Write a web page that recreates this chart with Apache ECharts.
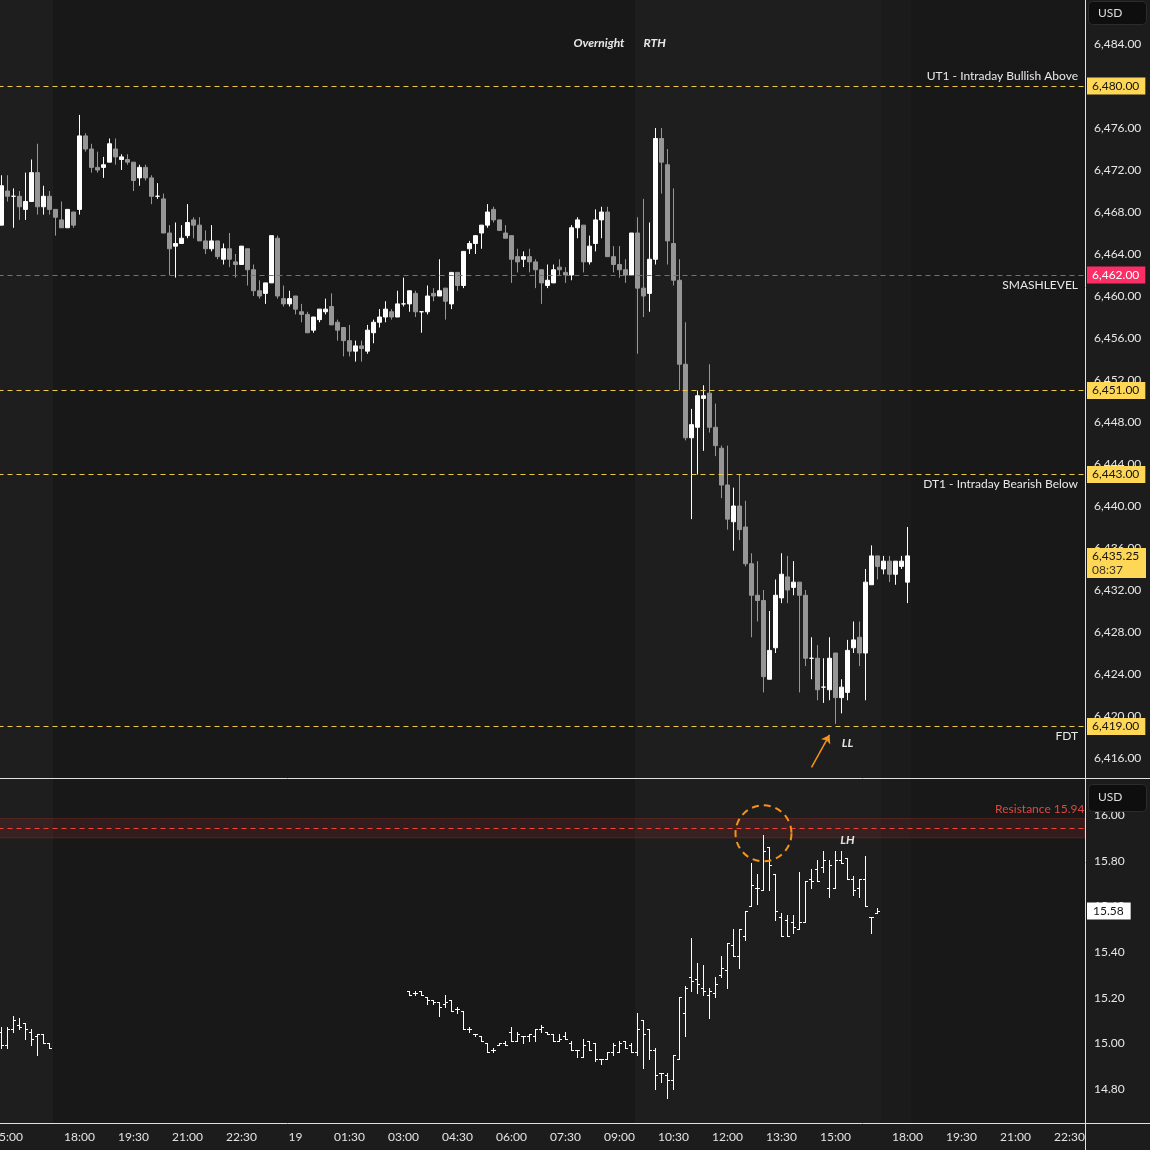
<!DOCTYPE html>
<html><head><meta charset="utf-8">
<script src="https://cdn.jsdelivr.net/npm/echarts@6/dist/echarts.min.js"></script>
<style>html,body{margin:0;padding:0;background:#181818}#c{width:1150px;height:1150px}</style>
</head><body><div id="c"></div>
<script>
// ---------------- DATA ----------------
// ES 10-minute candles [open, high, low, close], first bar at esStart
const esStart = '08-18 14:50';
const esBars = [
[6466.75,6471.5,6466.75,6470.5],[6470.0,6471.5,6469.0,6469.5],[6469.5,6470.25,6466.5,6469.5],[6469.5,6470.0,6467.25,6468.5],
[6468.25,6471.75,6467.25,6469.0],[6469.0,6473.0,6469.0,6471.75],[6471.75,6474.5,6467.75,6468.5],[6468.5,6470.5,6467.75,6469.5],
[6469.5,6470.0,6467.75,6468.25],[6468.25,6468.25,6465.75,6467.5],[6467.25,6469.0,6466.5,6466.5],[6466.5,6468.25,6466.5,6468.25],
[6468.0,6468.0,6466.5,6466.75],
// 18:00
[6468.25,6477.25,6467.75,6475.25],[6475.25,6475.5,6473.75,6474.0],[6474.0,6474.5,6471.75,6472.25],[6472.25,6473.75,6471.75,6472.0],
[6472.25,6473.25,6471.25,6472.5],[6472.75,6475.0,6472.75,6474.5],[6474.0,6475.0,6472.5,6473.25],[6473.0,6473.5,6472.0,6473.25],
[6473.0,6473.5,6472.5,6472.75],[6472.75,6472.75,6470.0,6471.0],[6471.25,6472.5,6470.5,6472.25],[6472.25,6472.5,6471.0,6471.25],
[6471.25,6471.5,6468.75,6469.5],[6469.5,6470.75,6469.25,6469.5],[6469.25,6469.75,6466.0,6466.0],[6466.0,6466.75,6462.0,6464.5],
[6464.75,6467.0,6461.75,6465.0],[6465.0,6466.75,6465.0,6465.5],[6465.75,6468.75,6465.5,6467.0],[6467.25,6467.5,6465.5,6466.75],
[6466.75,6467.5,6465.25,6465.25],[6465.25,6466.25,6464.0,6464.5],[6464.5,6466.75,6464.25,6465.25],[6465.25,6465.25,6463.5,6463.75],
[6463.5,6465.0,6463.0,6464.5],[6464.5,6466.0,6462.75,6463.5],[6463.25,6464.0,6461.75,6463.0],[6463.0,6464.75,6463.0,6464.75],
[6464.5,6464.5,6461.0,6462.5],[6462.5,6463.0,6460.0,6460.5],[6460.5,6461.5,6459.75,6460.0],[6460.25,6461.25,6459.25,6461.25],
[6461.25,6465.75,6461.25,6465.75],[6465.5,6465.75,6459.75,6460.0],[6459.75,6461.0,6459.0,6459.25],[6459.25,6460.5,6459.0,6459.75],
[6460.0,6460.0,6458.25,6458.75],[6458.5,6459.25,6457.5,6458.25],[6458.25,6458.5,6456.5,6456.5],[6456.75,6458.0,6456.5,6458.0],
[6457.75,6458.75,6457.5,6458.75],[6458.5,6459.75,6458.25,6458.75],[6459.0,6460.25,6457.25,6457.25],[6457.5,6457.75,6455.75,6456.75],
[6457.0,6457.0,6454.25,6455.75],[6455.75,6457.25,6454.25,6454.75],[6454.75,6455.75,6453.75,6455.25],[6455.25,6455.75,6453.75,6455.0],
[6454.75,6457.25,6454.5,6456.75],[6456.5,6457.75,6455.5,6457.5],[6457.5,6458.75,6457.0,6458.0],[6458.0,6459.5,6457.5,6458.75],
[6458.5,6458.75,6457.75,6458.0],[6458.0,6460.5,6458.0,6459.25],[6459.25,6461.75,6459.0,6459.25],[6459.25,6460.5,6458.5,6460.5],
[6460.25,6460.5,6458.0,6458.5],[6458.5,6458.5,6456.5,6458.5],[6458.5,6461.0,6458.25,6460.0],[6460.25,6460.75,6459.5,6460.0],
[6460.0,6463.5,6460.0,6460.5],[6460.75,6460.75,6457.75,6459.5],[6459.25,6462.25,6458.75,6462.25],[6462.25,6462.25,6460.5,6461.0],
[6461.0,6464.25,6460.75,6464.25],[6464.5,6465.25,6464.0,6465.0],[6465.0,6465.75,6464.0,6465.75],[6466.0,6466.75,6464.5,6466.75],
[6466.75,6468.75,6466.5,6468.0],[6468.25,6468.5,6467.0,6467.25],[6467.25,6467.25,6466.25,6466.25],[6466.0,6466.75,6465.5,6465.5],
[6465.75,6465.75,6461.25,6463.5],[6463.75,6464.5,6462.25,6463.25],[6463.5,6464.25,6462.75,6463.75],[6463.75,6464.5,6462.25,6463.25],
[6463.25,6463.5,6460.75,6462.5],[6462.5,6462.5,6459.25,6461.25],[6461.0,6463.0,6460.75,6461.5],[6461.25,6463.0,6461.25,6462.5],
[6462.75,6463.5,6462.0,6462.5],[6462.25,6462.75,6461.25,6462.0],[6462.0,6466.75,6461.5,6466.5],[6466.5,6467.5,6465.5,6467.25],
[6466.75,6466.75,6462.25,6463.25],[6463.25,6465.75,6463.0,6464.75],[6465.0,6468.25,6464.25,6467.25],[6467.25,6468.5,6465.5,6468.0],
[6468.0,6468.5,6463.75,6463.75],[6463.75,6464.75,6462.25,6463.0],[6463.0,6464.75,6461.75,6462.5],[6462.5,6463.5,6461.25,6462.0],
[6462.0,6466.0,6462.0,6466.0],
// 09:30 RTH
[6466.0,6467.5,6454.5,6460.75],[6460.75,6469.25,6458.0,6460.0],[6460.25,6467.0,6458.5,6463.5],[6463.5,6476.0,6463.0,6475.0],
[6475.0,6476.0,6469.75,6472.75],[6472.5,6474.0,6463.0,6465.25],[6465.0,6470.25,6461.0,6461.5],[6461.5,6463.5,6451.0,6453.5],
[6453.5,6457.5,6446.25,6446.5],[6446.5,6449.25,6438.75,6447.75],[6447.5,6451.0,6443.0,6450.5],[6450.25,6451.5,6445.25,6450.5],
[6450.75,6453.5,6447.0,6447.5],[6447.5,6449.75,6444.75,6445.75],[6445.5,6445.75,6440.75,6442.0],[6442.0,6445.75,6437.75,6438.75],
[6438.5,6441.75,6435.75,6440.0],[6440.0,6443.0,6436.75,6437.75],[6438.0,6440.5,6434.25,6434.5],[6434.5,6435.5,6427.5,6431.5],
[6431.5,6434.75,6429.0,6431.0],[6431.0,6432.0,6422.25,6423.75],[6423.5,6430.0,6423.5,6426.25],[6426.5,6433.0,6426.0,6431.5],
[6431.25,6435.5,6430.75,6433.5],[6433.25,6435.25,6430.75,6432.0],[6432.25,6434.75,6431.5,6432.75],[6432.75,6432.75,6422.25,6431.5],
[6431.5,6432.0,6424.75,6425.5],[6425.5,6427.5,6423.5,6425.5],[6425.5,6426.75,6421.5,6422.5],[6422.75,6425.5,6421.25,6422.75],
[6422.5,6427.5,6421.5,6425.5],[6426.0,6426.0,6419.25,6421.75],[6421.75,6423.5,6420.25,6422.75],[6422.25,6427.25,6421.5,6426.25],
[6426.5,6429.0,6426.0,6427.25],[6427.5,6429.0,6424.75,6426.0],[6426.0,6434.0,6421.5,6432.75],[6432.5,6436.25,6432.5,6435.25],
[6435.25,6435.25,6433.0,6434.25],[6434.0,6435.25,6433.5,6434.75],[6434.75,6435.25,6432.75,6433.5],[6433.5,6434.75,6432.5,6434.75],
[6434.25,6435.25,6434.0,6434.75],
// 18:00 new session
[6432.75,6438.0,6430.75,6435.25]
];
const barTimer = '08:37';

// VIX 10-minute bars [open, high, low, close]
const vixStartA = '08-18 14:50';
const vixA = [
[15.05,15.07,14.98,14.99],[14.99,15.07,14.98,15.06],[15.06,15.12,15.05,15.10],[15.08,15.11,15.06,15.07],
[15.09,15.09,15.02,15.06],[15.05,15.06,14.99,15.02],[15.03,15.04,14.95,15.04],[15.04,15.04,15.00,15.00],[15.00,15.00,14.98,14.98]
];
const vixStartB = '08-19 03:10';
const vixB = [
[15.23,15.23,15.21,15.21],[15.22,15.23,15.21,15.22],[15.23,15.23,15.21,15.21],[15.20,15.20,15.17,15.19],
[15.19,15.19,15.17,15.18],[15.18,15.18,15.12,15.16],[15.17,15.21,15.16,15.18],[15.19,15.19,15.14,15.14],
[15.15,15.16,15.13,15.15],[15.14,15.14,15.06,15.06],[15.06,15.07,15.05,15.06],[15.04,15.04,15.03,15.04],
[15.03,15.03,15.01,15.01],[15.00,15.00,14.96,14.96],[14.97,14.98,14.96,14.97],[14.99,15.00,14.99,15.00],
[15.00,15.01,14.99,14.99],[15.05,15.07,15.01,15.01],[15.01,15.05,15.01,15.04],[15.03,15.03,15.00,15.03],
[15.03,15.04,15.01,15.04],[15.03,15.06,15.01,15.06],[15.06,15.08,15.05,15.07],[15.05,15.05,15.04,15.04],
[15.04,15.04,15.01,15.01],[15.01,15.04,15.01,15.02],[15.03,15.05,15.02,15.02],[15.00,15.01,14.97,14.97],
[14.97,14.97,14.94,14.97],[14.94,15.02,14.94,14.99],[15.01,15.01,14.97,14.97],[15.00,15.00,14.92,14.93],
[14.93,14.93,14.91,14.93],[14.93,14.96,14.93,14.96],[14.96,15.00,14.95,14.99],[14.96,15.01,14.96,15.00],
[15.01,15.01,14.98,14.98],[14.99,15.00,14.96,14.96],[14.96,15.13,14.95,15.06],[15.10,15.10,14.89,15.04],
[15.06,15.06,14.93,14.97],[14.97,14.98,14.80,14.86],[14.87,14.87,14.83,14.87],[14.86,14.87,14.76,14.84],
[14.84,14.95,14.80,14.95],[14.93,15.20,14.93,15.20],[15.13,15.25,15.03,15.24],[15.29,15.46,15.23,15.27],
[15.28,15.35,15.22,15.26],[15.24,15.34,15.21,15.23],[15.21,15.24,15.11,15.23],[15.22,15.29,15.20,15.26],
[15.30,15.38,15.29,15.33],[15.32,15.44,15.24,15.44],[15.43,15.50,15.38,15.38],[15.38,15.50,15.33,15.50],
[15.47,15.58,15.45,15.58],[15.60,15.79,15.60,15.69],[15.68,15.74,15.61,15.68],[15.67,15.91,15.67,15.84],
[15.86,15.86,15.67,15.78],[15.74,15.74,15.54,15.58],[15.55,15.57,15.47,15.47],[15.54,15.56,15.47,15.47],
[15.53,15.56,15.48,15.51],[15.50,15.75,15.50,15.53],[15.53,15.71,15.53,15.71],[15.72,15.76,15.68,15.71],
[15.76,15.80,15.71,15.71],[15.77,15.84,15.75,15.80],[15.68,15.80,15.64,15.78],[15.68,15.84,15.68,15.80],
[15.80,15.84,15.79,15.79],[15.81,15.81,15.72,15.72],[15.72,15.73,15.65,15.67],[15.68,15.72,15.64,15.72],
[15.72,15.82,15.60,15.60],[15.55,15.55,15.48,15.55],[15.57,15.59,15.57,15.58]
];

// horizontal levels on the ES pane
const levelValues = [6480, 6462, 6451, 6443, 6419];
const levelNames  = ['UT1 - Intraday Bullish Above', 'SMASHLEVEL', '', 'DT1 - Intraday Bearish Below', 'FDT'];
const levelSides  = ['top', 'bottom', '', 'bottom', 'bottom'];
const levelKinds  = ['gold', 'pink', 'gold', 'gold', 'gold'];

const resistanceValue = 15.94;
const resistanceBand = [15.90, 15.985];

// sessions (shading)
const sessionRanges = [['08-18 14:50','08-18 16:10','rth'],['08-19 09:30','08-19 16:10','rth'],['08-19 16:20','08-19 18:00','post']];

// x tick labels
const xTickLabels = {
 '08-18 15:00':'15:00','08-18 18:00':'18:00','08-18 19:30':'19:30','08-18 21:00':'21:00','08-18 22:30':'22:30',
 '08-19 00:00':'19','08-19 01:30':'01:30','08-19 03:00':'03:00','08-19 04:30':'04:30','08-19 06:00':'06:00',
 '08-19 07:30':'07:30','08-19 09:00':'09:00','08-19 10:30':'10:30','08-19 12:00':'12:00','08-19 13:30':'13:30',
 '08-19 15:00':'15:00','08-19 18:00':'18:00','08-19 19:30':'19:30','08-19 21:00':'21:00','08-19 22:30':'22:30'
};

// annotations
const llArrow = [['08-19 14:20', 6415.1], ['08-19 14:50', 6418.2]];
const llText = ['08-19 15:20', 6417.4];
const lhText = ['08-19 15:20', 15.89];
const circleAt = ['08-19 13:00', 15.92];

// ---------------- BUILD ----------------
function pad(n){return String(n).padStart(2,'0');}
const categories = [];
for (let t = Date.UTC(2025,7,18,14,50); categories.length < 181; t += 600000) {
  const d = new Date(t);
  if (d.getUTCHours() === 17) continue;
  categories.push(pad(d.getUTCMonth()+1)+'-'+pad(d.getUTCDate())+' '+pad(d.getUTCHours())+':'+pad(d.getUTCMinutes()));
}
const idx = s => categories.indexOf(s);
function fmtPrice(v){
  const s = v.toFixed(2); const [a,b] = s.split('.');
  return a.replace(/\B(?=(\d{3})+(?!\d))/g, ',') + '.' + b;
}
const FONT = "Lato, 'Noto Sans', sans-serif";
const GOLD_LINE = '#efc94c', GOLD_BADGE = '#fed756', PINK_LINE = '#e23c69', PINK_BADGE = '#fd2d66';
const ORANGE = '#f7931a';
const CLEAR = 'rgba(0,0,0,0)';
const sessionColors = {rth:'#1e1e1e', post:'#1b1b1b'};

const esData = [];
const e0 = idx(esStart);
for (let i = 0; i < e0; i++) esData.push('-');
esBars.forEach(b => esData.push([b[0], b[3], b[2], b[1]]));

const vixData = vixA.map((b,j)=>[idx(vixStartA)+j, b[0], b[1], b[2], b[3]])
  .concat(vixB.map((b,j)=>[idx(vixStartB)+j, b[0], b[1], b[2], b[3]]));

const sessionData = sessionRanges.map(s => [idx(s[0]), 6450, idx(s[1]), s[2]]);

const esMarkLines = [];
levelValues.forEach((v,i) => {
  const gold = levelKinds[i] === 'gold';
  if (levelNames[i]) {
    esMarkLines.push({yAxis: v, lineStyle:{color:CLEAR, width:1, type:'solid'},
      label:{show:true, position: levelSides[i]==='top'?'insideEndTop':'insideEndBottom', formatter: levelNames[i],
        color:'#e8e8e8', fontSize:12, fontFamily:FONT, distance:[6.5,4]}});
  }
  esMarkLines.push({yAxis: v, lineStyle:{color: gold?GOLD_LINE:PINK_LINE, type:[5,4], width:1},
    label:{show:true, position:'end', formatter: fmtPrice(v), backgroundColor: gold?GOLD_BADGE:PINK_BADGE,
      color: gold?'#141414':'#ffffff', padding:[3,6,2,5], distance:2.5, fontSize:12, fontFamily:FONT}});
});
esMarkLines.push([
  {coord:[idx(llArrow[0][0]), llArrow[0][1]], symbol:'none', lineStyle:{color:ORANGE, width:1.5, type:'solid'}, label:{show:false}},
  {coord:[idx(llArrow[1][0]), llArrow[1][1]], symbol:'arrow', symbolSize:8}
]);

const lastClose = esBars[esBars.length-1][3];
const lastVix = vixB[vixB.length-1][3];

const gridBase = {left:-1.5, width:1086, outerBoundsMode:'none', containLabel:false};
const option = {
  backgroundColor:'#181818',
  animation:false,
  textStyle:{fontFamily:FONT},
  grid:[
    Object.assign({top:2, height:798}, gridBase),
    Object.assign({top:769.3, height:365.76}, gridBase),
    Object.assign({top:1122, height:1}, gridBase)
  ],
  xAxis:[0,1,2].map(g => ({
    type:'category', gridIndex:g, data:categories, boundaryGap:true, show: g===2,
    axisLine:{show:false}, axisTick:{show:false}, splitLine:{show:false},
    axisLabel: g===2 ? {show:true, interval:(i,v)=> (v in xTickLabels), formatter:v=>xTickLabels[v]||'',
      color:'#e2e2e2', fontSize:12, margin:8, fontFamily:FONT, hideOverlap:false,
      alignMinLabel:'center', alignMaxLabel:'center'} : {show:false}
  })),
  yAxis:[
    {gridIndex:0, type:'value', position:'right', min:6412, max:6488, interval:4, z:0,
     axisLine:{show:false}, axisTick:{show:false}, splitLine:{show:false},
     axisLabel:{margin:9.5, color:'#e6e6e6', fontSize:12, fontFamily:FONT,
       formatter:v => (v<6416||v>6484)?'':fmtPrice(v)}},
    {gridIndex:1, type:'value', position:'right', min:14.6, max:16.2, interval:0.2, z:0,
     axisLine:{show:false}, axisTick:{show:false}, splitLine:{show:false},
     axisLabel:{margin:9.5, color:'#e6e6e6', fontSize:12, fontFamily:FONT,
       formatter:v => (v<14.79||v>16.01)?'':v.toFixed(2)}},
    {gridIndex:2, type:'value', show:false}
  ],
  series:[
    {type:'custom', name:'sessions', xAxisIndex:0, yAxisIndex:0, z:0, silent:true, clip:false,
     encode:{x:0, y:1}, data: sessionData,
     renderItem:(params, api) => {
       const bw = api.size([1,0])[0];
       const x0 = api.coord([api.value(0), api.value(1)])[0] - bw/2;
       const x1 = api.coord([api.value(2), api.value(1)])[0] + bw/2;
       return {type:'rect', shape:{x:Math.round(x0), y:0, width:Math.round(x1)-Math.round(x0), height:1123},
         style:{fill: sessionColors[sessionData[params.dataIndex][3]]}, silent:true};
     }},
    {type:'candlestick', name:'ES', xAxisIndex:0, yAxisIndex:0, z:3, barWidth:4, data: esData,
     itemStyle:{color:'#ffffff', color0:'#969696', borderColor:'#ffffff', borderColor0:'#969696', borderColorDoji:'#ffffff', borderWidth:1},
     markLine:{silent:true, symbol:['none','none'], symbolSize:8, animation:false, data: esMarkLines},
     markPoint:{silent:true, animation:false, data:[
       {coord:[idx(llText[0]), llText[1]], symbol:'circle', symbolSize:1, itemStyle:{color:CLEAR},
        label:{show:true, position:'inside', formatter:'LL', color:'#e4e4e4', fontStyle:'italic', fontWeight:'bold', fontSize:12, fontFamily:FONT}}
     ]}},
    {type:'custom', name:'VIX', xAxisIndex:1, yAxisIndex:1, z:3, silent:true,
     encode:{x:0, y:[1,2,3,4]}, data: vixData,
     renderItem:(params, api) => {
       const i = api.value(0);
       const snap = y => Math.round(y - 0.5) + 0.5;
       const o = api.coord([i, api.value(1)]), h = api.coord([i, api.value(2)]);
       const l = api.coord([i, api.value(3)]), c = api.coord([i, api.value(4)]);
       const x = snap(o[0]);
       const st = {stroke:'#ffffff', lineWidth:1};
       let yh = snap(h[1]), yl = snap(l[1]); if (yl - yh < 1) yl = yh + 1;
       return {type:'group', children:[
         {type:'line', shape:{x1:x, y1:yh-0.5, x2:x, y2:yl+0.5}, style:st},
         {type:'line', shape:{x1:x-2.5, y1:snap(o[1]), x2:x, y2:snap(o[1])}, style:st},
         {type:'line', shape:{x1:x, y1:snap(c[1]), x2:x+2.5, y2:snap(c[1])}, style:st}
       ]};
     },
     markArea:{silent:true, itemStyle:{color:'rgba(235,60,55,0.12)', borderColor:'rgba(235,60,55,0.22)', borderWidth:1},
       data:[[{yAxis:resistanceBand[0]},{yAxis:resistanceBand[1]}]]},
     markLine:{silent:true, symbol:['none','none'], animation:false, data:[
       {yAxis:resistanceValue, lineStyle:{color:'#f0433a', type:[5,4], width:1},
        label:{show:true, position:'insideEndTop', formatter:'Resistance ' + resistanceValue.toFixed(2), color:'#e8453f', fontSize:12, fontFamily:FONT, distance:[0,14]}},
       {yAxis:lastVix, lineStyle:{color:CLEAR, width:1, type:'solid'},
        label:{show:true, position:'end', formatter:lastVix.toFixed(2), backgroundColor:'#ffffff', color:'#131313', padding:[3,7,2,6], distance:2.5, fontSize:12, fontFamily:FONT}}
     ]},
     markPoint:{silent:true, animation:false, data:[
       {coord:[idx(circleAt[0]), circleAt[1]], symbol:'circle', symbolSize:56,
        itemStyle:{color:CLEAR, borderColor:ORANGE, borderWidth:2, borderType:[7,5]}, label:{show:false}},
       {coord:[idx(lhText[0]), lhText[1]], symbol:'circle', symbolSize:1, itemStyle:{color:CLEAR},
        label:{show:true, position:'inside', formatter:'LH', color:'#e4e4e4', fontStyle:'italic', fontWeight:'bold', fontSize:12, fontFamily:FONT}}
     ]}}
  ]
};

const chart = echarts.init(document.getElementById('c'), null, {renderer:'canvas', width:1150, height:1150});
chart.setOption(option);

const py = chart.convertToPixel({yAxisIndex:0}, lastClose);
const rthX = chart.convertToPixel({xAxisIndex:0}, idx(sessionRanges[1][0])) - 3;
const txt = (x,y,text,extra) => Object.assign({type:'text', x, y, z:40, style:Object.assign({text, fill:'#dddddd', fontSize:12, fontFamily:FONT, verticalAlign:'middle'}, extra||{})});
chart.setOption({graphic:[
  {type:'rect', z:-5, shape:{x:1085, y:0, width:65, height:1150}, style:{fill:'#1c1c1c'}},
  {type:'rect', z:-5, shape:{x:0, y:1123, width:1085, height:27}, style:{fill:'#1c1c1c'}},
  {type:'line', z:50, shape:{x1:1085.5, y1:0, x2:1085.5, y2:1150}, style:{stroke:'#e0e0e0', lineWidth:1}},
  {type:'line', z:50, shape:{x1:0, y1:778.5, x2:1150, y2:778.5}, style:{stroke:'#e0e0e0', lineWidth:1}},
  {type:'line', z:50, shape:{x1:0, y1:1123.5, x2:1150, y2:1123.5}, style:{stroke:'#e0e0e0', lineWidth:1}},
  {type:'rect', z:40, shape:{x:1088.5, y:1.5, width:58, height:23, r:4}, style:{fill:'#0e0e0e', stroke:'#2c2c2c', lineWidth:1}},
  txt(1098, 13, 'USD'),
  {type:'rect', z:40, shape:{x:1088.5, y:784.5, width:58, height:27, r:4}, style:{fill:'#0e0e0e', stroke:'#2c2c2c', lineWidth:1}},
  txt(1098, 797.5, 'USD'),
  {type:'rect', z:40, shape:{x:1087, y:py-8, width:59, height:30}, style:{fill:GOLD_BADGE}},
  txt(1092, py+0.5, fmtPrice(lastClose), {fill:'#141414'}),
  txt(1092, py+14.5, barTimer, {fill:'#3a3320'}),
  txt(rthX - 10, 43, 'Overnight', {textAlign:'right', fontStyle:'italic', fontWeight:'bold', fill:'#e8e8e8'}),
  txt(rthX + 9, 43, 'RTH', {textAlign:'left', fontStyle:'italic', fontWeight:'bold', fill:'#e8e8e8'})
]});
</script></body></html>
